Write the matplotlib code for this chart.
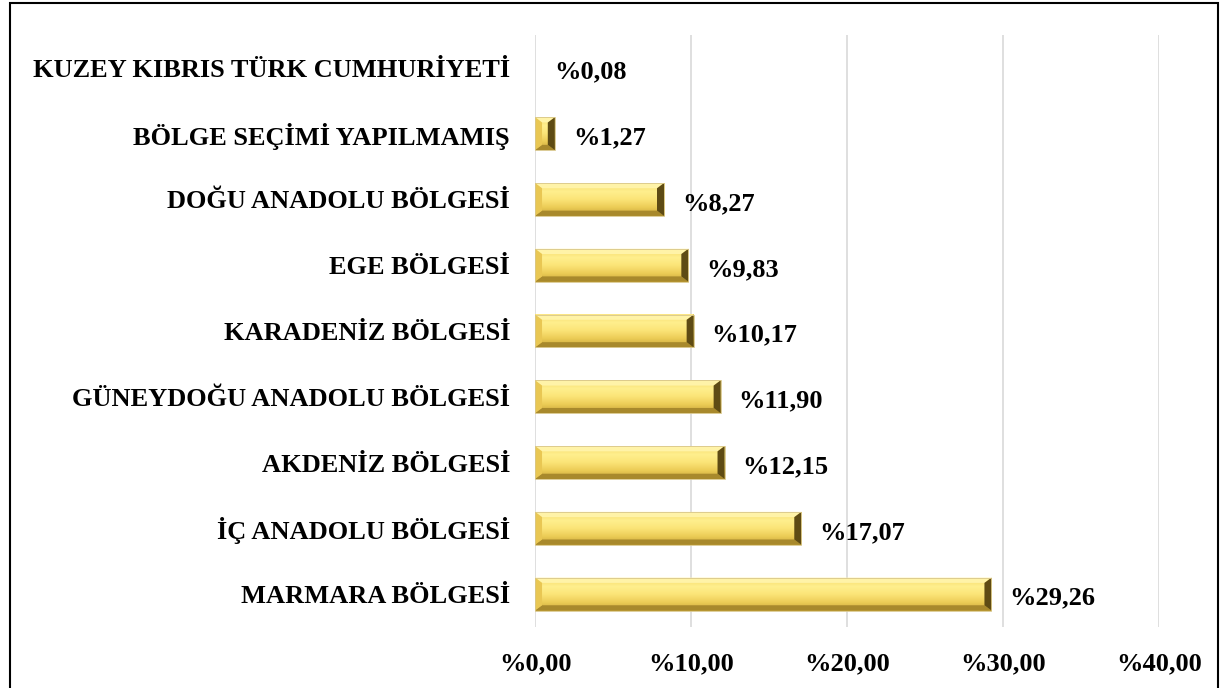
import numpy as np
import matplotlib
matplotlib.use("Agg")
import matplotlib.pyplot as plt
from matplotlib.patches import Polygon, Rectangle
from matplotlib.colors import LinearSegmentedColormap

# Bölgelere göre dağılım (%), alttan üste
regions = ["MARMARA BÖLGESİ", "İÇ ANADOLU BÖLGESİ", "AKDENİZ BÖLGESİ",
           "GÜNEYDOĞU ANADOLU BÖLGESİ", "KARADENİZ BÖLGESİ", "EGE BÖLGESİ",
           "DOĞU ANADOLU BÖLGESİ", "BÖLGE SEÇİMİ YAPILMAMIŞ",
           "KUZEY KIBRIS TÜRK CUMHURİYETİ"]
shares = [29.26, 17.07, 12.15, 11.90, 10.17, 9.83, 8.27, 1.27, 0.08]
xticks = [0, 10, 20, 30, 40]

plt.rcParams["font.family"] = ["Liberation Serif", "DejaVu Serif"]
plt.rcParams["font.weight"] = "bold"

FS = 19
BAR_H = 0.5
BX = 0.45    # bevel genişliği (veri birimi, x)
BY = 0.08    # bevel yüksekliği (veri birimi, y)

grad = LinearSegmentedColormap.from_list(
    "gold", ["#C9A53A", "#EBCB55", "#FBE477", "#FFEF8E", "#F6DA68"])


def fmt(v):
    return "%" + f"{v:.2f}".replace(".", ",")


def bevel_bar(ax, y, w):
    y0, y1 = y - BAR_H / 2, y + BAR_H / 2
    if w < 0.2:
        return  # çok ince, görünmüyor
    bx = min(BX, w / 2)
    img = np.linspace(0, 1, 64).reshape(-1, 1)
    ax.imshow(img, extent=(0, w, y0, y1), origin="lower", cmap=grad,
              aspect="auto", zorder=2)
    # bevel kenarları
    ax.add_patch(Polygon([(0, y1), (w, y1), (w - bx, y1 - BY), (bx, y1 - BY)],
                         closed=True, fc="#FFF3A8", ec="none", zorder=3))
    ax.add_patch(Polygon([(0, y0), (w, y0), (w - bx, y0 + BY), (bx, y0 + BY)],
                         closed=True, fc="#A8892C", ec="none", zorder=3))
    ax.add_patch(Polygon([(0, y0), (0, y1), (bx, y1 - BY), (bx, y0 + BY)],
                         closed=True, fc="#E9C753", ec="none", zorder=3))
    ax.add_patch(Polygon([(w, y0), (w, y1), (w - bx, y1 - BY), (w - bx, y0 + BY)],
                         closed=True, fc="#5E4B14", ec="none", zorder=3))
    ax.add_patch(Rectangle((0, y0), w, BAR_H, fc="none", ec="#D8C68A",
                           lw=0.6, zorder=4))


fig = plt.figure(figsize=(12.24, 6.88), dpi=100)
fig.patches.append(Rectangle((0.008, -0.01), 0.987, 1.006,
                             transform=fig.transFigure, fill=False,
                             ec="black", lw=1.5))
ax = fig.add_axes([0.4371, 0.0887, 0.5098, 0.8604])

ypos = np.arange(len(regions))
for y, v in zip(ypos, shares):
    bevel_bar(ax, y, v)
    ax.annotate(fmt(v), (v, y), xytext=(13, -3), textcoords="offset points",
                ha="left", va="center", fontsize=FS, fontweight="bold")

ax.set_xlim(0, 40)
ax.set_ylim(-0.5, len(regions) - 0.5)
ax.set_xticks(xticks)
ax.set_xticklabels([fmt(t) for t in xticks], fontsize=FS, fontweight="bold")
ax.set_yticks(ypos)
ax.set_yticklabels(regions, fontsize=FS, fontweight="bold")
ax.tick_params(axis="both", length=0)
ax.tick_params(axis="y", pad=18)
ax.tick_params(axis="x", pad=18)
ax.grid(axis="x", color="#D9D9D9", lw=1.2, zorder=0)
ax.set_axisbelow(True)
for s in ax.spines.values():
    s.set_visible(False)

fig.savefig("out.png", dpi=100)
